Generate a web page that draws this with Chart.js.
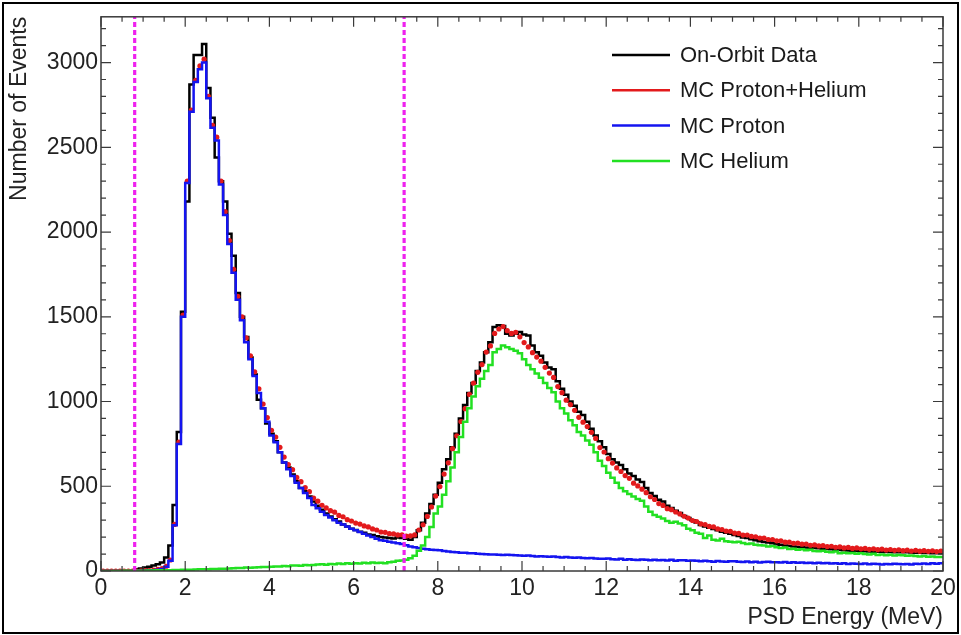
<!doctype html>
<html lang="en">
<head>
<meta charset="utf-8">
<title>PSD Energy</title>
<script src="https://cdn.jsdelivr.net/npm/chart.js@4.4.0/dist/chart.umd.min.js"></script>
<style>
    body { margin: 0; background: #fff; }
    #wrap { width: 961px; height: 635px; }
</style>
</head>
<body>
<div id="wrap"><canvas id="psd" width="961" height="635"></canvas></div>

<script>
    // histogram bins: 0 - 20 MeV, 0.1 MeV wide
    var binWidth = 0.1;

    var dataCounts = [
        0, 0, 0, 0, 0, 0, 0, 0, 10, 15,
        20, 25, 32, 40, 50, 80, 150, 390, 820, 1530,
        2180, 2870, 3045, 3045, 3110, 2850, 2675, 2440, 2300, 2180,
        1990, 1860, 1640, 1500, 1380, 1260, 1160, 1010, 960, 870,
        810, 765, 700, 640, 610, 570, 530, 490, 470, 440,
        410, 385, 362, 340, 322, 305, 292, 275, 262, 250,
        242, 232, 226, 215, 212, 205, 200, 198, 195, 192,
        198, 195, 190, 185, 200, 240, 285, 340, 395, 450,
        520, 600, 660, 730, 810, 900, 980, 1050, 1110, 1180,
        1230, 1290, 1350, 1440, 1450, 1445, 1400, 1390, 1400, 1410,
        1395, 1390, 1330, 1290, 1270, 1230, 1200, 1190, 1120, 1075,
        1040, 1000, 975, 940, 920, 880, 840, 800, 765, 730,
        690, 660, 640, 625, 600, 575, 560, 540, 525, 490,
        460, 442, 420, 410, 385, 372, 355, 342, 325, 312,
        300, 286, 272, 262, 255, 248, 240, 232, 226, 220,
        212, 206, 198, 194, 188, 182, 176, 171, 168, 164,
        158, 155, 151, 148, 145, 142, 140, 138, 136, 135,
        134, 132, 130, 128, 126, 124, 123, 121, 120, 118,
        117, 116, 115, 114, 113, 113, 112, 112, 111, 111,
        110, 110, 109, 108, 107, 106, 106, 105, 105, 105
    ];

    var protonHeliumCounts = [
        0, 0, 0, 0, 0, 0, 0, 0, 0, 1,
        2, 3, 6, 9, 14, 28, 65, 275, 760, 1510,
        2300, 2720, 2895, 2980, 3020, 2800, 2630, 2560, 2300, 2120,
        1950, 1780, 1620, 1500, 1375, 1270, 1175, 1075, 985, 905,
        830, 790, 730, 672, 628, 598, 552, 527, 492, 468,
        430, 412, 388, 372, 356, 347, 328, 320, 303, 295,
        283, 277, 266, 260, 248, 242, 230, 228, 220, 219,
        213, 214, 206, 207, 213, 242, 273, 322, 378, 442,
        498, 572, 638, 722, 798, 882, 958, 1042, 1108, 1172,
        1218, 1292, 1328, 1402, 1428, 1442, 1418, 1402, 1408, 1382,
        1348, 1322, 1288, 1262, 1238, 1202, 1168, 1142, 1088, 1052,
        1008, 982, 948, 907, 878, 852, 818, 782, 728, 702,
        663, 637, 608, 587, 563, 547, 518, 502, 483, 462,
        438, 422, 398, 387, 368, 362, 348, 337, 323, 312,
        298, 292, 278, 274, 263, 260, 248, 245, 236, 234,
        224, 222, 212, 212, 204, 202, 194, 194, 186, 186,
        178, 178, 170, 170, 163, 164, 158, 159, 152, 154,
        148, 150, 144, 146, 140, 142, 136, 139, 133, 136,
        131, 133, 128, 131, 126, 129, 124, 127, 122, 125,
        120, 123, 118, 122, 117, 120, 116, 119, 115, 118
    ];

    var protonCounts = [
        0, 0, 0, 0, 0, 0, 0, 0, 0, 1,
        2, 3, 5, 8, 12, 25, 60, 270, 750, 1500,
        2290, 2710, 2885, 2960, 3000, 2790, 2615, 2540, 2280, 2100,
        1930, 1760, 1600, 1480, 1350, 1250, 1150, 1050, 960, 880,
        800, 760, 700, 640, 600, 560, 520, 490, 460, 430,
        390, 370, 350, 330, 315, 300, 285, 275, 262, 250,
        240, 230, 220, 210, 200, 190, 182, 178, 172, 168,
        163, 160, 152, 145, 140, 135, 132, 128, 126, 124,
        122, 118, 115, 112, 110, 108, 107, 105, 104, 102,
        100, 99, 98, 97, 96, 95, 96, 94, 93, 92,
        90, 92, 88, 86, 87, 85, 84, 86, 82, 80,
        82, 80, 78, 79, 76, 75, 77, 74, 73, 72,
        74, 70, 68, 72, 66, 69, 67, 65, 68, 66,
        64, 67, 63, 65, 62, 66, 61, 63, 64, 60,
        62, 60, 58, 61, 57, 55, 59, 56, 54, 57,
        58, 55, 53, 56, 52, 54, 50, 53, 55, 51,
        52, 50, 53, 49, 51, 48, 50, 47, 49, 46,
        48, 45, 47, 44, 46, 43, 45, 42, 44, 43,
        42, 44, 40, 43, 41, 39, 42, 40, 43, 41,
        40, 42, 39, 43, 41, 44, 42, 45, 43, 46
    ];

    var heliumCounts = [
        0, 0, 0, 0, 0, 1, 1, 1, 2, 2,
        2, 3, 3, 4, 4, 5, 5, 6, 6, 7,
        8, 8, 9, 10, 10, 11, 12, 12, 13, 14,
        15, 16, 17, 18, 20, 19, 21, 22, 24, 23,
        25, 27, 26, 30, 28, 32, 33, 31, 35, 34,
        36, 38, 40, 37, 42, 40, 44, 41, 45, 43,
        46, 44, 48, 45, 50, 47, 49, 46, 52, 55,
        60, 62, 66, 75, 90, 120, 150, 200, 260, 340,
        380, 450, 530, 610, 700, 790, 880, 960, 1030, 1090,
        1135, 1180, 1215, 1290, 1310, 1330, 1320, 1310, 1300, 1285,
        1250, 1215, 1190, 1165, 1140, 1110, 1080, 1055, 1000, 960,
        930, 890, 860, 820, 800, 770, 745, 700, 650, 620,
        580, 550, 520, 490, 470, 455, 440, 425, 415, 380,
        350, 330, 320, 310, 295, 285, 290, 280, 270, 250,
        240, 225, 220, 195, 210, 185, 180, 190, 175, 172,
        170, 172, 165, 160, 162, 155, 152, 150, 145, 148,
        140, 135, 138, 130, 132, 125, 128, 122, 125, 118,
        117, 120, 114, 110, 115, 105, 108, 104, 106, 102,
        105, 100, 98, 102, 95, 97, 93, 96, 92, 94,
        93, 90, 91, 88, 86, 89, 84, 85, 83, 82
    ];

    var cutEnergies = [0.8, 7.2];
    var xTicks = [0, 2, 4, 6, 8, 10, 12, 14, 16, 18, 20];
    var yTicks = [0, 500, 1000, 1500, 2000, 2500, 3000];
    var xMax = 20;
    var yMax = 3270;

    var FONT = "'Liberation Sans', Arial, sans-serif";

    function edge(i) {
        return +(i * binWidth).toFixed(2);
    }

    // step histogram: one point per left edge plus the closing right edge
    function histPoints(vals) {
        var pts = vals.map(function(v, i) { return { x: edge(i), y: v }; });
        pts.push({ x: edge(vals.length), y: vals[vals.length - 1] });
        return pts;
    }

    function centerPoints(vals) {
        return vals.map(function(v, i) { return { x: +(edge(i) + binWidth / 2).toFixed(3), y: v }; });
    }

    var datasets = [
        {
            label: 'On-Orbit Data', data: histPoints(dataCounts),
            borderColor: '#000000', borderWidth: 2.5, stepped: true,
            pointRadius: 0, order: 4, inLegend: true
        },
        {
            label: 'MC Proton+Helium', data: centerPoints(protonHeliumCounts),
            showLine: false, pointRadius: 2.6, pointStyle: 'circle',
            backgroundColor: '#e31a1c', borderColor: '#e31a1c', borderWidth: 0,
            order: 3, inLegend: true
        },
        {
            label: 'MC Proton', data: histPoints(protonCounts),
            borderColor: '#1414f0', borderWidth: 2.5, stepped: true,
            pointRadius: 0, order: 2, inLegend: true
        },
        {
            label: 'MC Helium', data: histPoints(heliumCounts),
            borderColor: '#22e022', borderWidth: 2.5, stepped: true,
            pointRadius: 0, order: 1, inLegend: true
        }
    ];

    cutEnergies.forEach(function(e) {
        datasets.push({
            label: 'cut ' + e, data: [{ x: e, y: 0 }, { x: e, y: yMax }],
            borderColor: '#ee22ee', borderWidth: 3.2, borderDash: [5, 3],
            pointRadius: 0, order: 0, inLegend: false
        });
    });

    // frame with inward ticks on all four sides (ROOT look)
    var framePlugin = {
        id: 'frame',
        afterDatasetsDraw: function(chart) {
            var ctx = chart.ctx;
            var a = chart.chartArea;
            var xs = chart.scales.x, ys = chart.scales.y;
            ctx.save();
            ctx.strokeStyle = '#3a3a3a';
            ctx.lineWidth = 1.5;
            ctx.strokeRect(a.left, a.top, a.right - a.left, a.bottom - a.top);
            ctx.lineWidth = 1.2;
            ctx.beginPath();
            for (var v = 0; v <= xMax + 1e-6; v += 0.5) {
                var px = xs.getPixelForValue(v);
                var len = (Math.abs(v / 2 - Math.round(v / 2)) < 1e-6) ? 10 : 5;
                ctx.moveTo(px, a.bottom); ctx.lineTo(px, a.bottom - len);
                ctx.moveTo(px, a.top); ctx.lineTo(px, a.top + len);
            }
            for (var w = 0; w <= yMax; w += 100) {
                var py = ys.getPixelForValue(w);
                var l2 = (w % 500 === 0) ? 10 : 5;
                ctx.moveTo(a.left, py); ctx.lineTo(a.left + l2, py);
                ctx.moveTo(a.right, py); ctx.lineTo(a.right - l2, py);
            }
            ctx.stroke();
            ctx.restore();
        },
        afterDraw: function(chart) {
            var ctx = chart.ctx;
            ctx.save();
            ctx.strokeStyle = '#000';
            ctx.lineWidth = 2;
            ctx.strokeRect(3, 3, chart.width - 6, chart.height - 5);
            ctx.restore();
        }
    };

    // legend drawn inside the frame, top right
    var legendPlugin = {
        id: 'boxLegend',
        afterDraw: function(chart) {
            var ctx = chart.ctx;
            var x0 = 612, x1 = 670, tx = 680, y0 = 55, dy = 35.3;
            ctx.save();
            ctx.font = '22px ' + FONT;
            ctx.textBaseline = 'middle';
            ctx.textAlign = 'left';
            var row = 0;
            chart.data.datasets.forEach(function(ds) {
                if (!ds.inLegend) return;
                var y = y0 + row * dy;
                ctx.strokeStyle = ds.borderColor;
                ctx.lineWidth = 2.5;
                ctx.beginPath();
                ctx.moveTo(x0, y); ctx.lineTo(x1, y);
                ctx.stroke();
                ctx.fillStyle = '#1a1a1a';
                ctx.fillText(ds.label, tx, y + 1);
                row++;
            });
            ctx.restore();
        }
    };

    var ctx = document.getElementById('psd').getContext('2d');
    var chart = new Chart(ctx, {
        type: 'line',
        data: { datasets: datasets },
        options: {
            responsive: false,
            animation: false,
            layout: { padding: { left: 0, top: 12, right: 18, bottom: 0 } },
            plugins: { legend: { display: false }, tooltip: { enabled: false } },
            scales: {
                x: {
                    type: 'linear', min: 0, max: xMax,
                    afterFit: function(s) { s.height = 64; },
                    afterBuildTicks: function(s) { s.ticks = xTicks.map(function(v) { return { value: v }; }); },
                    grid: { display: false, drawTicks: false },
                    border: { display: false },
                    ticks: {
                        padding: 4, color: '#222', font: { family: FONT, size: 23 }, maxRotation: 0, autoSkip: false,
                        callback: function(v) { return String(v); }
                    },
                    title: {
                        display: true, text: 'PSD Energy (MeV)', align: 'end', color: '#222',
                        font: { family: FONT, size: 23 }, padding: { top: 0, bottom: 4 }
                    }
                },
                y: {
                    type: 'linear', min: 0, max: yMax,
                    afterFit: function(s) { s.width = 101; },
                    afterBuildTicks: function(s) { s.ticks = yTicks.map(function(v) { return { value: v }; }); },
                    grid: { display: false, drawTicks: false },
                    border: { display: false },
                    ticks: {
                        padding: 3, color: '#222', font: { family: FONT, size: 23 }, autoSkip: false,
                        callback: function(v) { return String(v); }
                    },
                    title: {
                        display: true, text: 'Number of Events', align: 'end', color: '#222',
                        font: { family: FONT, size: 23 }, padding: { top: 6, bottom: 0 }
                    }
                }
            }
        },
        plugins: [framePlugin, legendPlugin]
    });
</script>
</body>
</html>
